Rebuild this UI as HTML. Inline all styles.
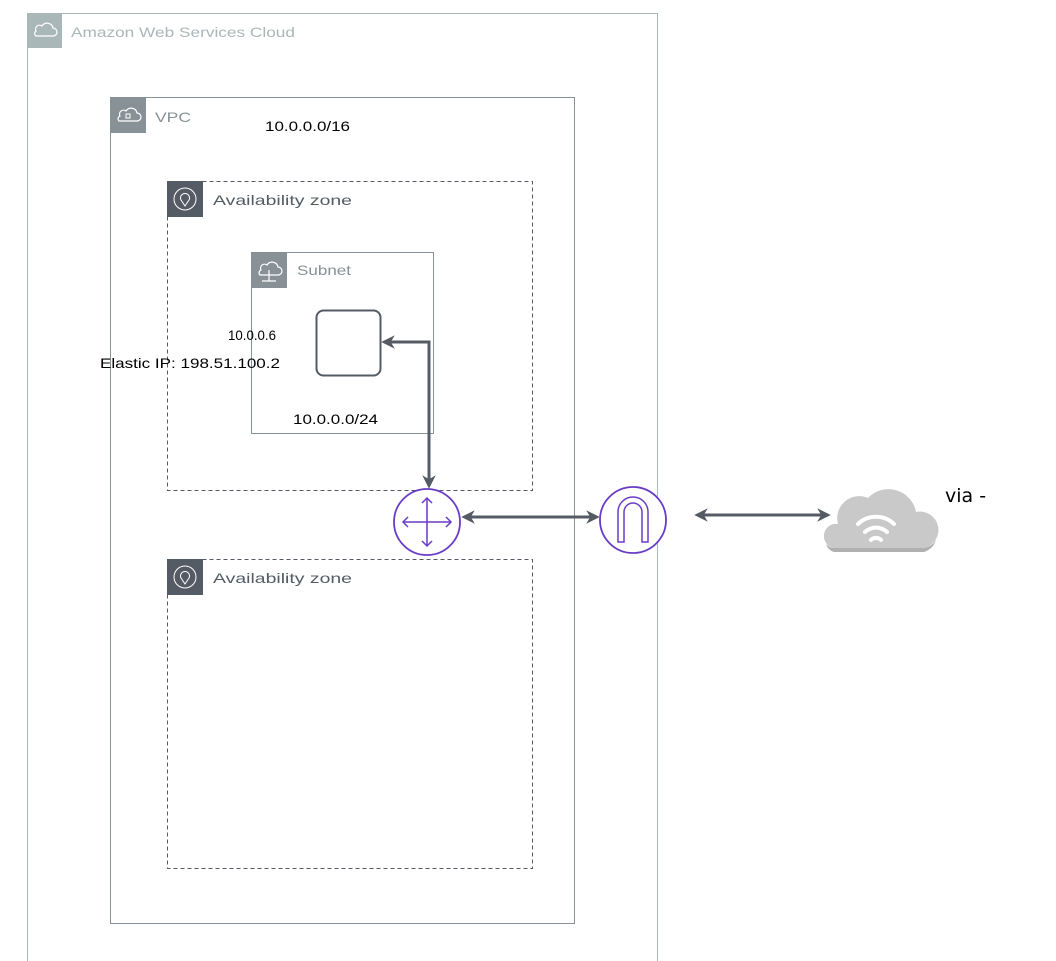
<!DOCTYPE html>
<html><head><meta charset="utf-8"><style>
html,body{margin:0;padding:0;background:#fff;}
body{width:1056px;height:961px;overflow:hidden;position:relative;font-family:"Liberation Sans",sans-serif;}
</style></head><body>
<svg width="1056" height="961" viewBox="0 0 1056 961" xmlns="http://www.w3.org/2000/svg" style="position:absolute;left:0;top:0">
<defs>
<marker id="ah" viewBox="0 0 10 10" refX="8" refY="5" markerWidth="4.5" markerHeight="4.5" orient="auto-start-reverse" markerUnits="strokeWidth">
<path d="M0,0 L10,5 L0,10 L3,5 z" fill="#545b64"/></marker>
</defs>
<!-- AWS cloud -->
<rect x="27.5" y="13.5" width="630" height="960" fill="none" stroke="#aab7b8" stroke-width="1"/>
<rect x="27" y="13" width="35" height="35" fill="#aab7b8"/>
<path d="M36,36 h17 a4,4 0 0 0 0-8 a6,6 0 0 0-11-2 a4,4 0 0 0-6,5 a3,3 0 0 0 0,5z" fill="none" stroke="#fff" stroke-width="1.2"/>
<text x="71" y="37" font-size="14" fill="#aab7b8" textLength="224" lengthAdjust="spacingAndGlyphs">Amazon Web Services Cloud</text>
<!-- VPC -->
<rect x="110.5" y="97.5" width="464" height="826" fill="none" stroke="#879196" stroke-width="1"/>
<rect x="110" y="97" width="36" height="36" fill="#879196"/>
<path d="M119,121 h18 a4,4 0 0 0 0-8 a6,6 0 0 0-11-2 a4,4 0 0 0-6,5 a3,3 0 0 0-1,5z" fill="none" stroke="#fff" stroke-width="1.2"/>
<rect x="126" y="114" width="4" height="4" fill="none" stroke="#fff"/>
<text x="155" y="122" font-size="14" fill="#879196" textLength="36" lengthAdjust="spacingAndGlyphs">VPC</text>
<text x="265" y="131" font-size="14" fill="#000" textLength="85" lengthAdjust="spacingAndGlyphs">10.0.0.0/16</text>
<!-- AZ1 -->
<rect x="167.5" y="181.5" width="365" height="309" fill="none" stroke="#545b64" stroke-dasharray="4,3"/>
<rect x="167" y="181" width="36" height="36" fill="#545b64"/>
<circle cx="185" cy="199" r="11" fill="none" stroke="#fff"/>
<path d="M185,206 l-4,-6 a4.5,4.5 0 1 1 8,0z" fill="none" stroke="#fff"/>
<text x="213" y="205" font-size="14" fill="#545b64" textLength="139" lengthAdjust="spacingAndGlyphs">Availability zone</text>
<!-- AZ2 -->
<rect x="167.5" y="559.5" width="365" height="309" fill="none" stroke="#545b64" stroke-dasharray="4,3"/>
<rect x="167" y="559" width="36" height="36" fill="#545b64"/>
<circle cx="185" cy="577" r="11" fill="none" stroke="#fff"/>
<path d="M185,584 l-4,-6 a4.5,4.5 0 1 1 8,0z" fill="none" stroke="#fff"/>
<text x="213" y="583" font-size="14" fill="#545b64" textLength="139" lengthAdjust="spacingAndGlyphs">Availability zone</text>
<!-- Subnet -->
<rect x="251.5" y="252.5" width="182" height="181" fill="none" stroke="#879196"/>
<rect x="251" y="252" width="36" height="36" fill="#879196"/>
<path d="M260,275 h18 a4,4 0 0 0 0-8 a6,6 0 0 0-11-2 a4,4 0 0 0-6,5 a3,3 0 0 0-1,5z M269,270 v11 M262,281 h14" fill="none" stroke="#fff" stroke-width="1.2"/>
<text x="297" y="275" font-size="14" fill="#879196" textLength="54" lengthAdjust="spacingAndGlyphs">Subnet</text>
<text x="293" y="424" font-size="14" fill="#000" textLength="85" lengthAdjust="spacingAndGlyphs">10.0.0.0/24</text>
<!-- instance -->
<rect x="316.5" y="310.5" width="64" height="65" rx="7" fill="none" stroke="#545b64" stroke-width="2"/>
<text x="228" y="340" font-size="14" fill="#000" textLength="48" lengthAdjust="spacingAndGlyphs">10.0.0.6</text>
<text x="100" y="368" font-size="14" fill="#000" textLength="180" lengthAdjust="spacingAndGlyphs">Elastic IP: 198.51.100.2</text>
<!-- connectors -->
<path d="M429,486 V342 H384" fill="none" stroke="#545b64" stroke-width="3" marker-start="url(#ah)" marker-end="url(#ah)"/>
<line x1="464" y1="517" x2="597" y2="517" stroke="#545b64" stroke-width="3" marker-start="url(#ah)" marker-end="url(#ah)"/>
<line x1="697" y1="515" x2="828" y2="515" stroke="#545b64" stroke-width="3" marker-start="url(#ah)" marker-end="url(#ah)"/>
<!-- router -->
<circle cx="427" cy="522" r="33" fill="#fff" stroke="#693cc5" stroke-width="1.8"/>
<g stroke="#693cc5" stroke-width="1.5" fill="none">
<path d="M427,498 V546 M403,522 H451"/>
<path d="M422,503 l5,-5 l5,5 M422,541 l5,5 l5,-5 M408,517 l-5,5 l5,5 M446,517 l5,5 l-5,5"/>
</g>
<!-- IGW -->
<circle cx="633" cy="520" r="33" fill="#fff" stroke="#693cc5" stroke-width="1.8"/>
<path d="M618,542 V512 a15,15 0 0 1 30,0 V542 h-6 V512 a9,9 0 0 0-18,0 V542z" fill="none" stroke="#693cc5" stroke-width="1.5"/>
<!-- cloud -->
<path d="M834,548 a12,12 0 0 1 4,-24 a22,22 0 0 1 30,-26 a28,28 0 0 1 48,14 a18,18 0 0 1 8,36 z" fill="#c9c9c9"/>
<path d="M834,548 h90 a18,18 0 0 0 12,-8 a18,18 0 0 1 -12,12 h-90 a12,12 0 0 1 -8,-8 a12,12 0 0 0 8,4z" fill="#b0b0b0"/>
<g fill="none" stroke="#fff" stroke-width="4" stroke-linecap="round">
<path d="M858,524 a26,26 0 0 1 36,0"/>
<path d="M865,532 a16,16 0 0 1 22,0"/>
<path d="M871,540 a7,7 0 0 1 10,0"/>
</g>
<text x="945" y="502" font-size="19" fill="#000" font-family="DejaVu Sans, sans-serif">via -</text>
</svg>
</body></html>
